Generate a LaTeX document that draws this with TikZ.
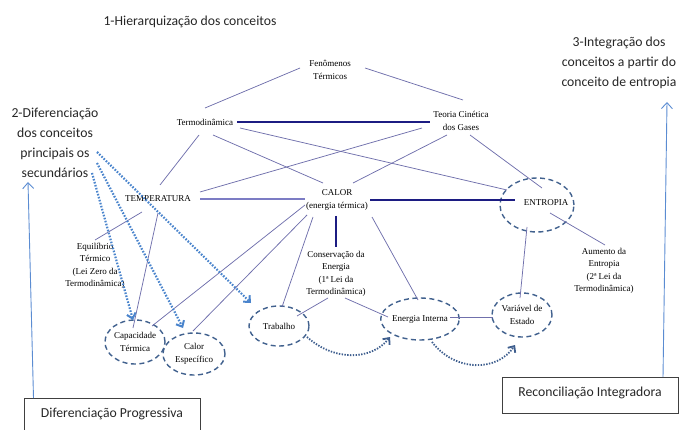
\documentclass[tikz,border=0pt]{standalone}
\usepackage{fontspec}
\setmainfont{Liberation Serif}
\newfontfamily\serifl{Liberation Serif}
\newfontfamily\calib{Carlito}
\usetikzlibrary{calc,arrows.meta,shapes.geometric}
\definecolor{thinc}{HTML}{7070AC}
\definecolor{navyc}{HTML}{1C1C82}
\definecolor{lavc}{HTML}{7C7CC4}
\definecolor{dotblue}{HTML}{4A84CC}
\definecolor{dotdark}{HTML}{3E5E8E}
\definecolor{ellc}{HTML}{41618E}
\definecolor{arrblue}{HTML}{5B8CD2}
\definecolor{boxc}{HTML}{404040}
\begin{document}
\begin{tikzpicture}[x=1pt,y=-1pt,
  lbl/.style={font=\serifl\fontsize{9}{12.5}\selectfont, align=center, inner sep=0pt},
  head/.style={font=\calib\fontsize{13.7}{20}\selectfont, align=center, inner sep=0pt, text=black!85},
  ell/.style={ellipse, draw=ellc, line width=1.4pt, dash pattern=on 5pt off 3.5pt, inner sep=0pt,
              font=\serifl\fontsize{9}{12.5}\selectfont, align=center},
  conn/.style={draw=thinc, line width=0.75pt},
  strong/.style={draw=navyc, line width=1.4pt},
  soft/.style={draw=lavc, line width=1.6pt},
  dotarr/.style={draw=dotblue, line width=2.2pt, dash pattern=on 1.6pt off 1.5pt,
                 -{Straight Barb[length=5pt,width=9pt,line width=2pt]}},
  dotarrd/.style={draw=dotdark, line width=1.8pt, dash pattern=on 1.4pt off 1.4pt,
                 -{Straight Barb[length=5pt,width=9pt,line width=1.8pt]}},
  bigarr/.style={draw=arrblue, line width=0.9pt, -{Straight Barb[length=6pt,width=11pt,line width=0.9pt]}},
  boxn/.style={draw=boxc, line width=1pt, font=\calib\fontsize{13.7}{16}\selectfont, inner xsep=0pt, text=black!85}
]
\useasboundingbox (0,0) rectangle (679,430);

% headings
\node[head] (h1) at (190,22) {1-Hierarquização dos conceitos};
\node[head] (h2) at (55,143) {2-Diferenciação\\dos conceitos\\principais os\\secundários};
\node[head] (h3) at (619,63) {3-Integração dos\\conceitos a partir do\\conceito de entropia};

% boxes
\node[boxn, anchor=north, minimum width=176pt, inner ysep=6pt, text height=13pt, text depth=20pt] (dp) at (112,398) {Diferenciação Progressiva};
\node[boxn, anchor=north, minimum width=176pt, inner ysep=4pt, text height=15pt, text depth=13pt] (ri) at (590,377) {Reconciliação Integradora};

% concept labels
\node[lbl] (fen) at (330,70) {Fenômenos\\Térmicos};
\node[lbl] (term) at (205,122) {Termodinâmica};
\node[lbl] (teoria) at (461,121) {Teoria Cinética\\dos Gases};
\node[lbl] (temp) at (158,199) {TEMPERATURA};
\node[lbl] (calor) at (337,200) {CALOR\\(energia térmica)};
\node[ell, minimum width=74pt, minimum height=54pt] (entc) at (537,205) {};
\node[lbl] (ent) at (546,203) {ENTROPIA};
\node[lbl] (equil) at (95,266) {Equilíbrio\\Térmico\\(Lei Zero da\\Termodinâmica)};
\node[lbl] (conserv) at (336,274) {Conservação da\\Energia\\(1ª Lei da\\Termodinâmica)};
\node[lbl] (aum) at (604,271) {Aumento da\\Entropia\\(2ª Lei da\\Termodinâmica)};

% dashed ellipses
\node[ell, minimum width=60pt, minimum height=44pt] (cap) at (135,342) {Capacidade\\Térmica};
\node[ell, minimum width=62pt, minimum height=42pt] (esp) at (194,354) {Calor\\Específico};
\node[ell, minimum width=60pt, minimum height=40pt] (trab) at (279,326) {Trabalho};
\node[ell, minimum width=64pt, minimum height=42pt] (ei) at (420,319) {Energia Interna};
\node[ell, minimum width=60pt, minimum height=44pt] (var) at (522,315) {Variável de\\Estado};

% thin connectors
\draw[conn] ($(fen)+(-30,-2)$) -- ($(term)+(0,-14)$);
\draw[conn] ($(fen)+(35,-2)$) -- ($(teoria)+(2,-21)$);
\draw[conn] ($(term)+(-6,13)$) -- ($(temp)+(2,-14)$);
\draw[conn] ($(term)+(8,13)$) -- ($(calor)+(-14,-17)$);
\draw[conn] ($(term)+(35,6)$) -- ($(entc)+(-30,-15)$);
\draw[conn] ($(teoria)+(-39,7)$) -- ($(temp)+(42,-7)$);
\draw[conn] ($(teoria)+(-14,14)$) -- ($(calor)+(16,-17)$);
\draw[conn] ($(teoria)+(9,14)$) -- ($(entc)+(5,-17)$);
\draw[conn] ($(temp)+(-16,13)$) -- ($(equil)+(0,-26)$);
\draw[conn] ($(temp)+(0,14)$) -- ($(cap)+(-2,-14)$);
\draw[conn] ($(calor)+(-32,5)$) -- ($(cap)+(17,-16)$);
\draw[conn] ($(calor)+(-30,15)$) -- ($(esp)+(-1,-23)$);
\draw[conn] ($(calor)+(-24,17)$) -- ($(trab)+(3,-19)$);
\draw[conn] ($(calor)+(35,17)$) -- ($(ei)+(-2,-19)$);
\draw[conn] ($(conserv)+(-8,24)$) -- ($(trab)+(18,-10)$);
\draw[conn] ($(conserv)+(9,24)$) -- ($(ei)+(-32,-2)$);
\draw[conn] ($(ei)+(30,-2)$) -- ($(var)+(-29,2)$);
\draw[conn] ($(entc)+(-10,22)$) -- ($(var)+(-2,-17)$);
\draw[conn] ($(entc)+(13,8)$) -- ($(aum)+(1,-26)$);

% strong connectors
\draw[strong] ($(term)+(32,0)$) -- ($(teoria)+(-31,1)$);
\draw[soft] ($(temp)+(42,0)$) -- ($(calor)+(-32,-1)$);
\draw[strong] ($(calor)+(33,0)$) -- ($(entc)+(-22,-5)$);
\draw[strong] ($(calor)+(-1,16)$) -- ($(conserv)+(0,-27)$);

% dotted arrows
\draw[dotarr] ($(h2)+(42,9)$) -- ($(trab)+(-28,-23)$);
\draw[dotarr] ($(h2)+(42,20)$) -- ($(esp)+(-11,-26)$);
\draw[dotarr] ($(h2)+(37,30)$) -- ($(cap)+(-2,-22)$);
\draw[dotarrd] ($(trab)+(28,11)$) .. controls (335,362) and (372,360) .. ($(ei)+(-30,18)$);
\draw[dotarrd] ($(ei)+(12,23)$) .. controls (455,372) and (497,372) .. ($(var)+(-7,30)$);

% big vertical arrows
\draw[bigarr] ($(dp.north west)+(10,0)$) -- ($(h2)+(-27,39)$);
\draw[bigarr] ($(ri.north)+(73,0)$) -- ($(h3)+(48,39)$);
\end{tikzpicture}
\end{document}
